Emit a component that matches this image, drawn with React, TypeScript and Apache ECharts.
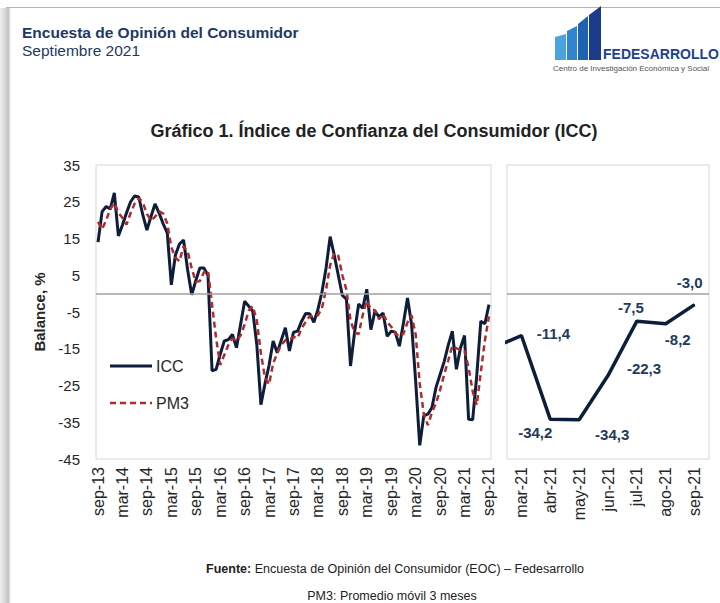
import React, { useEffect, useRef } from 'react';
import * as echarts from 'echarts';

const MONTH_ABBR = ['ene', 'feb', 'mar', 'abr', 'may', 'jun', 'jul', 'ago', 'sep', 'oct', 'nov', 'dic'];
// Monthly categories sep-13 ... sep-21
const months: string[] = Array.from({ length: 97 }, (_, k) => {
  const t = 8 + k;
  return `${MONTH_ABBR[t % 12]}-${13 + Math.floor(t / 12)}`;
});

// ICC (balance, %)
const icc: number[] = [
  14.0, 22.3, 23.7, 23.0,
  27.4, 15.7, 18.7, 22.0, 25.0, 26.6, 26.3, 21.4, 17.3, 21.0, 24.4, 21.9,
  19.0, 16.5, 2.4, 10.5, 13.5, 14.6, 6.5, -0.3, 3.5, 7.0, 7.0, 5.0,
  -21.0, -20.6, -16.5, -12.9, -12.5, -11.1, -14.7, -8.4, -2.1, -3.4, -4.8, -14.0,
  -30.2, -24.5, -19.5, -12.9, -16.1, -12.7, -9.3, -15.6, -10.5, -10.2, -7.5, -5.4,
  -5.5, -7.8, -4.3, 0.5, 7.0, 15.5, 10.5, 5.0, -0.5, -1.5, -19.7, -10.5,
  -2.8, -4.0, 1.2, -9.8, -4.8, -6.3, -5.3, -11.6, -10.2, -10.5, -14.3, -8.0,
  -1.2, -8.4, -23.8, -41.3, -33.2, -32.8, -31.0, -25.5, -22.0, -18.5, -14.0, -10.2,
  -20.6, -14.8, -11.4, -34.2, -34.3, -22.3, -7.5, -8.2, -3.0,
];

// PM3: promedio móvil 3 meses
const pm3: number[] = [
  19.5, 17.5, 20.0, 23.0,
  24.7, 22.0, 20.6, 18.8, 21.9, 24.5, 26.0, 24.8, 21.7, 19.9, 20.9, 22.4,
  21.8, 19.1, 12.6, 9.8, 8.8, 12.9, 11.5, 6.9, 3.2, 3.4, 5.8, 6.3,
  -3.0, -12.2, -19.4, -16.7, -14.0, -12.2, -12.8, -11.4, -8.4, -4.6, -3.4, -7.4,
  -16.3, -22.9, -24.7, -19.0, -16.2, -13.9, -12.7, -12.5, -11.8, -12.1, -9.4, -7.7,
  -6.1, -6.2, -5.9, -3.9, 1.1, 7.7, 11.0, 10.3, 5.0, 1.0, -7.2, -10.6,
  -11.0, -5.8, -1.9, -4.2, -4.5, -7.0, -5.5, -7.7, -9.0, -10.8, -11.7, -10.9,
  -7.8, -5.9, -11.1, -24.5, -32.8, -35.8, -32.3, -29.8, -26.2, -22.0, -18.2, -14.2,
  -14.9, -15.2, -15.6, -20.1, -26.6, -30.3, -21.4, -12.7, -6.2,
];

// Right panel: feb-21 (only its segment enters from the left edge) ... sep-21
const RIGHT_FROM = 89;
const rightMonths = months.slice(RIGHT_FROM + 1);
const rightValues = icc.slice(RIGHT_FROM);

const legendNames = ['ICC', 'PM3'];

// label offsets (styling) for right-panel data labels
const labelOffsets: ([number, number] | null)[] = [
  null, [32, -2], [-15, 13], [33, 15], [36, -7], [-6, -14], [12, 16], [-5, -22],
];

const FONT = '"Liberation Sans", Arial, sans-serif';
const NAVY = '#0e1d3a';
const RED = '#b02b2b';
const TXT = '#262626';

export default function App() {
  const ref = useRef<HTMLDivElement>(null);
  useEffect(() => {
    if (!ref.current) return;
    const chart = echarts.init(ref.current, undefined, { renderer: 'svg' });
    const zeroLine = {
      silent: true,
      symbol: 'none',
      label: { show: false },
      lineStyle: { color: '#a0a0a0', width: 1.5, type: 'solid' },
      data: [{ yAxis: 0 }],
    };
    const option: any = {
      animation: false,
      backgroundColor: '#ffffff',
      textStyle: { fontFamily: FONT },
      grid: [
        { left: 96, top: 165, width: 395, height: 294, show: true, borderColor: '#d6d6d6', borderWidth: 1 },
        { left: 507, top: 165, width: 202, height: 294, show: true, borderColor: '#d6d6d6', borderWidth: 1 },
      ],
      xAxis: [
        {
          type: 'category', gridIndex: 0, data: months, boundaryGap: true,
          axisLine: { show: false }, axisTick: { show: false },
          axisLabel: { interval: 5, rotate: 90, fontSize: 16, color: TXT, margin: 8, fontFamily: FONT },
        },
        {
          type: 'category', gridIndex: 1, data: rightMonths, boundaryGap: true,
          axisLine: { show: false }, axisTick: { show: false },
          axisLabel: { interval: 0, rotate: 90, fontSize: 16, color: TXT, margin: 8, fontFamily: FONT },
        },
        {
          type: 'value', gridIndex: 1, min: 0.5, max: 7.5, show: false,
        },
      ],
      yAxis: [
        {
          type: 'value', gridIndex: 0, min: -45, max: 35, interval: 10,
          axisLine: { show: false }, axisTick: { show: false }, splitLine: { show: false },
          axisLabel: { fontSize: 15, color: TXT, margin: 16, fontFamily: FONT },
          name: 'Balance, %', nameLocation: 'middle', nameGap: 48,
          nameTextStyle: { fontSize: 15, fontWeight: 'bold', color: TXT, fontFamily: FONT },
        },
        {
          type: 'value', gridIndex: 1, min: -45, max: 35, interval: 10,
          axisLine: { show: false }, axisTick: { show: false }, splitLine: { show: false },
          axisLabel: { show: false },
        },
      ],
      series: [
        {
          name: legendNames[0], type: 'line', xAxisIndex: 0, yAxisIndex: 0, data: icc,
          symbol: 'none', lineStyle: { color: NAVY, width: 3 }, itemStyle: { color: NAVY },
          markLine: zeroLine, z: 2,
        },
        {
          name: legendNames[1], type: 'line', xAxisIndex: 0, yAxisIndex: 0, data: pm3,
          symbol: 'none', lineStyle: { color: RED, width: 2.5, type: [6, 4] }, itemStyle: { color: RED }, z: 3,
        },
        {
          name: 'ICC mensual', type: 'line', xAxisIndex: 2, yAxisIndex: 1,
          data: rightValues.map((v, k) => ({
            value: [k, v],
            label: labelOffsets[k] ? { show: true, offset: labelOffsets[k] } : { show: false },
          })),
          symbol: 'circle', symbolSize: 1, showSymbol: true,
          lineStyle: { color: NAVY, width: 3.5 }, itemStyle: { color: NAVY },
          label: {
            show: true, position: 'inside', fontSize: 15, fontWeight: 'bold', color: '#213a5c', fontFamily: FONT,
            formatter: (p: any) => Number(p.value[1]).toFixed(1).replace('.', ','),
          },
          markLine: zeroLine, clip: true,
        },
      ],
      graphic: {
        elements: [
          {
            type: 'rect', left: 0, top: 8, shape: { x: 0, y: 0, width: 12, height: 600 }, silent: true,
            style: {
              fill: new echarts.graphic.LinearGradient(0, 0, 1, 0, [
                { offset: 0, color: 'rgba(200,200,200,0.3)' },
                { offset: 0.7, color: 'rgba(150,150,150,0.6)' },
                { offset: 1, color: 'rgba(255,255,255,0)' },
              ]),
            },
          },
          { type: 'line', silent: true, shape: { x1: 6, y1: 7.5, x2: 720, y2: 7.5 }, style: { stroke: '#b5b5b5', lineWidth: 1 } },
          {
            type: 'text', left: 22, top: 24, silent: true,
            style: { text: 'Encuesta de Opinión del Consumidor', fontSize: 15.5, fontWeight: 'bold', fill: '#1f3864', fontFamily: FONT },
          },
          {
            type: 'text', left: 22, top: 42, silent: true,
            style: { text: 'Septiembre 2021', fontSize: 15.5, fill: '#1f3864', fontFamily: FONT },
          },
          // logo
          { type: 'polygon', silent: true, shape: { points: [[555, 37], [566, 34], [566, 60], [555, 60]] }, style: { fill: '#4ba3de' } },
          { type: 'polygon', silent: true, shape: { points: [[567, 31], [577, 26], [577, 60], [567, 60]] }, style: { fill: '#2f86cf' } },
          { type: 'polygon', silent: true, shape: { points: [[578, 24], [588, 16], [588, 60], [578, 60]] }, style: { fill: '#1f63b0' } },
          { type: 'polygon', silent: true, shape: { points: [[589, 15], [601, 6], [601, 60], [589, 60]] }, style: { fill: '#1b3c8a' } },
          {
            type: 'text', x: 603, y: 54, silent: true,
            style: { text: 'FEDESARROLLO', fontSize: 14, fontWeight: 'bold', fill: '#1f3f8f', fontFamily: FONT, textVerticalAlign: 'middle' },
          },
          {
            type: 'text', x: 553, y: 68, silent: true,
            style: { text: 'Centro de Investigación Económica y Social', fontSize: 8, fill: '#555555', fontFamily: FONT, textVerticalAlign: 'middle' },
          },
          // legend
          { type: 'line', silent: true, shape: { x1: 110, y1: 366, x2: 152, y2: 366 }, style: { stroke: NAVY, lineWidth: 3 } },
          {
            type: 'text', x: 156, y: 366, silent: true,
            style: { text: legendNames[0], fontSize: 16, fill: TXT, fontFamily: FONT, textVerticalAlign: 'middle' },
          },
          { type: 'line', silent: true, shape: { x1: 110, y1: 403, x2: 152, y2: 403 }, style: { stroke: RED, lineWidth: 2.5, lineDash: [6, 4] } },
          {
            type: 'text', x: 156, y: 403, silent: true,
            style: { text: legendNames[1], fontSize: 16, fill: TXT, fontFamily: FONT, textVerticalAlign: 'middle' },
          },
          {
            type: 'text', x: 374, y: 131, silent: true,
            style: {
              text: 'Gráfico 1. Índice de Confianza del Consumidor (ICC)', fontSize: 18, fontWeight: 'bold',
              fill: '#222222', fontFamily: FONT, textAlign: 'center', textVerticalAlign: 'middle',
            },
          },
          {
            type: 'text', x: 395, y: 569, silent: true,
            style: {
              text: '{b|Fuente:} Encuesta de Opinión del Consumidor (EOC) – Fedesarrollo',
              rich: { b: { fontWeight: 'bold', fontSize: 12.5, fill: '#222222', fontFamily: FONT } },
              fontSize: 12.5, fill: '#222222', fontFamily: FONT, textAlign: 'center', textVerticalAlign: 'middle',
            },
          },
          {
            type: 'text', x: 392, y: 596, silent: true,
            style: {
              text: 'PM3: Promedio móvil 3 meses', fontSize: 12.5, fill: '#222222', fontFamily: FONT,
              textAlign: 'center', textVerticalAlign: 'middle',
            },
          },
        ],
      },
    };
    chart.setOption(option);
    return () => chart.dispose();
  }, []);
  return <div ref={ref} style={{ position: 'fixed', left: 0, top: 0, width: 720, height: 603 }} />;
}
